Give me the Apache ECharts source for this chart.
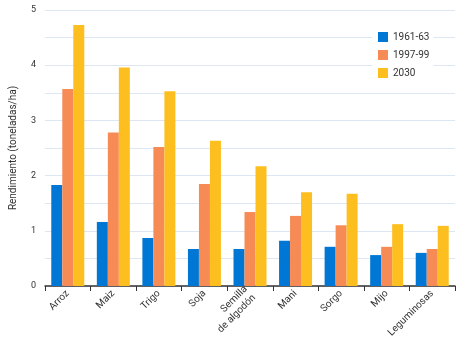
<!DOCTYPE html>
<html>
<head>
<meta charset="utf-8">
<script src="https://cdn.jsdelivr.net/npm/echarts@6/dist/echarts.min.js"></script>
<style>
html,body{margin:0;padding:0;background:#fff;}
#c{width:466px;height:346px;}
</style>
</head>
<body>
<div id="c"></div>
<script>
var categories = ['Arroz','Maiz','Trigo','Soja','Semilla\nde algodón','Mani','Sorgo','Mijo','Leguminosas'];
var seriesNames = ['1961-63','1997-99','2030'];
var values1961 = [1.83,1.16,0.87,0.67,0.67,0.82,0.71,0.56,0.60];
var values1997 = [3.57,2.78,2.52,1.85,1.34,1.27,1.10,0.71,0.67];
var values2030 = [4.73,3.96,3.53,2.63,2.17,1.70,1.67,1.12,1.09];
var yTicks = [0,1,2,3,4,5];
var colors = ['#0077d4','#f68b56','#fdbf1f'];

var font = 'Roboto';
var chart = echarts.init(document.getElementById('c'), null, {renderer:'canvas'});
function mk(name, data, color){
  return {name:name,type:'bar',data:data,barWidth:11,barGap:'0%',
    itemStyle:{color:color},animation:false};
}
chart.setOption({
  animation:false,
  textStyle:{fontFamily:font},
  grid:{left:39,right:11,top:10,bottom:60,containLabel:false},
  legend:{
    left:372,top:29,orient:'vertical',itemWidth:10,itemHeight:10,itemGap:8,
    backgroundColor:'#fff',padding:[3,4,4,6],
    icon:'rect',
    textStyle:{fontFamily:font,fontSize:10,color:'#333'},
    data:seriesNames
  },
  xAxis:{
    type:'category',data:categories,
    axisLine:{lineStyle:{color:'#333',width:1.5}},
    axisTick:{show:true,length:5,lineStyle:{color:'#333'}},
    axisLabel:{rotate:45,fontSize:10,color:'#333',margin:6,interval:0,lineHeight:12,fontFamily:font}
  },
  yAxis:{
    type:'value',min:0,max:5,interval:0.5,
    name:'Rendimiento (toneladas/ha)',nameLocation:'middle',nameGap:27,
    nameTextStyle:{fontSize:10,color:'#333',fontFamily:font},
    axisLine:{show:false},axisTick:{show:false},
    splitLine:{lineStyle:{color:'#dde6f3',width:1}},
    axisLabel:{fontSize:9,color:'#333',margin:9,fontFamily:font,
      formatter:function(v){return yTicks.indexOf(v)>=0?String(v):'';}}
  },
  series:[mk(seriesNames[0],values1961,colors[0]),mk(seriesNames[1],values1997,colors[1]),mk(seriesNames[2],values2030,colors[2])]
});
</script>
</body>
</html>
